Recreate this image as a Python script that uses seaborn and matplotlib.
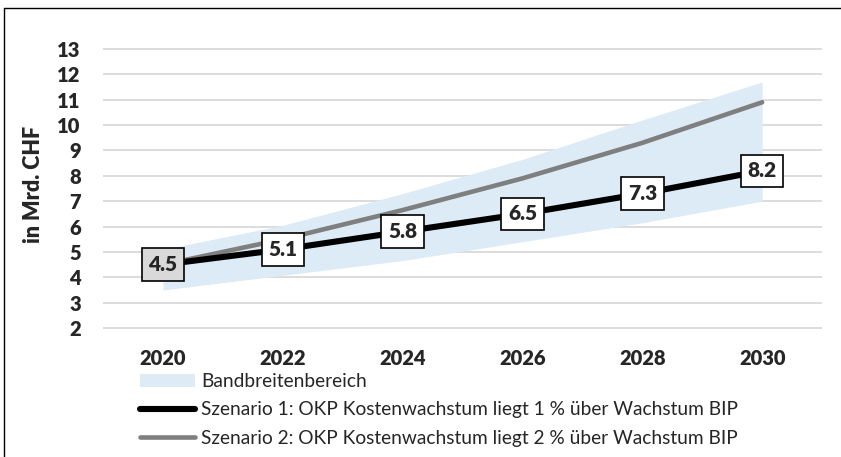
import seaborn as sns
import matplotlib.pyplot as plt
from matplotlib.patches import Patch
from matplotlib.lines import Line2D

years = [2020, 2022, 2024, 2026, 2028, 2030]
szenario1 = [4.5, 5.1, 5.8, 6.5, 7.3, 8.2]
szenario2 = [4.5, 5.5, 6.65, 7.9, 9.3, 10.9]
band_low = [3.5, 4.08, 4.66, 5.4, 6.15, 7.0]
band_high = [5.1, 6.05, 7.3, 8.65, 10.2, 11.7]
labels = ["Bandbreitenbereich",
          "Szenario 1: OKP Kostenwachstum liegt 1 % über Wachstum BIP",
          "Szenario 2: OKP Kostenwachstum liegt 2 % über Wachstum BIP"]
y_ticks = list(range(2, 14))

sns.set_style("white")
plt.rcParams['font.family'] = ['Lato', 'DejaVu Sans']

band_color = "#ddebf7"
grey = "#7f7f7f"

fig = plt.figure(figsize=(8.41, 4.57), dpi=100)
ax = fig.add_axes([0.1225, 0.2794, 0.855, 0.6162])

ax.fill_between(years, band_low, band_high, color=band_color, lw=0, zorder=1)
sns.lineplot(x=years, y=szenario2, ax=ax, color=grey, lw=3.3,
             solid_capstyle='round', zorder=2)
sns.lineplot(x=years, y=szenario1, ax=ax, color="black", lw=4.4,
             solid_capstyle='round', zorder=3)

for i, (x, v) in enumerate(zip(years, szenario1)):
    ax.text(x, v, f"{v:.1f}", ha='center', va='center', fontsize=15,
            fontweight='heavy', zorder=5,
            bbox=dict(boxstyle="square,pad=0.32",
                      fc="#d9d9d9" if i == 0 else "white",
                      ec="black", lw=1.2))

ax.set_xlim(2019, 2031)
ax.set_ylim(1.95, 13.05)
ax.set_xticks(years)
ax.set_yticks(y_ticks)
ax.grid(axis='y', color="#d9d9d9", lw=1.3, zorder=0)
ax.grid(axis='x', visible=False)
ax.tick_params(length=0, labelsize=14.5)
ax.tick_params(axis='x', pad=14)
ax.tick_params(axis='y', pad=16)
for t in ax.get_xticklabels() + ax.get_yticklabels():
    t.set_fontweight('heavy')
sns.despine(ax=ax, left=True, bottom=True)
ax.set_axisbelow(True)

fig.text(34 / 841, 1 - 184 / 457, "in Mrd. CHF", rotation=90, ha='center',
         va='center', fontsize=15.5, fontweight='heavy')

handles = [Patch(fc=band_color, ec='none'),
           Line2D([], [], color="black", lw=4.4, solid_capstyle='round'),
           Line2D([], [], color=grey, lw=3.3, solid_capstyle='round')]
fig.legend(handles, labels, loc='upper left',
           bbox_to_anchor=(140 / 841, 1 - 373 / 457), frameon=False,
           fontsize=13.8, handlelength=2.85, handletextpad=0.35,
           labelspacing=0.6, borderpad=0, borderaxespad=0)

fig.add_artist(Line2D([4 / 841, 4 / 841], [0, 1 - 8 / 457], color='black',
                      lw=1.0, transform=fig.transFigure))
fig.add_artist(Line2D([4 / 841, 1], [1 - 8 / 457, 1 - 8 / 457], color='black',
                      lw=1.0, transform=fig.transFigure))

fig.savefig("out.png", dpi=100)
